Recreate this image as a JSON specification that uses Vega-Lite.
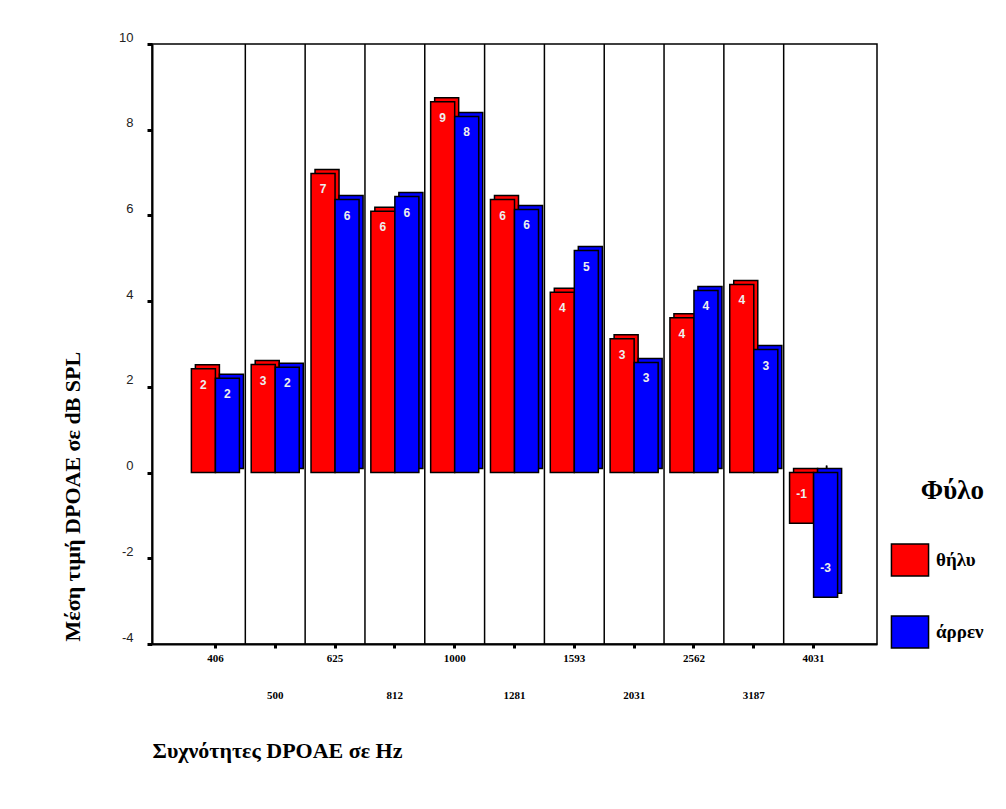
{
  "$schema": "https://vega.github.io/schema/vega-lite/v6.json",
  "width": 725,
  "height": 600,
  "autosize": "none",
  "padding": {"left": 152, "top": 44, "right": 129, "bottom": 165},
  "background": "white",
  "config": {
    "view": {"stroke": "black", "strokeWidth": 1.5},
    "locale": {"number": {"decimal": ".", "thousands": ",", "grouping": [3], "currency": ["$", ""], "minus": "-"}}
  },
  "resolve": {"scale": {"xOffset": "independent"}},
  "data": {
    "values": [
      {"freq": "406", "sex": "θήλυ", "value": 2.42},
      {"freq": "406", "sex": "άρρεν", "value": 2.2},
      {"freq": "500", "sex": "θήλυ", "value": 2.52},
      {"freq": "500", "sex": "άρρεν", "value": 2.46},
      {"freq": "625", "sex": "θήλυ", "value": 6.98},
      {"freq": "625", "sex": "άρρεν", "value": 6.37},
      {"freq": "812", "sex": "θήλυ", "value": 6.1},
      {"freq": "812", "sex": "άρρεν", "value": 6.44},
      {"freq": "1000", "sex": "θήλυ", "value": 8.65},
      {"freq": "1000", "sex": "άρρεν", "value": 8.31},
      {"freq": "1281", "sex": "θήλυ", "value": 6.37},
      {"freq": "1281", "sex": "άρρεν", "value": 6.14},
      {"freq": "1593", "sex": "θήλυ", "value": 4.21},
      {"freq": "1593", "sex": "άρρεν", "value": 5.18},
      {"freq": "2031", "sex": "θήλυ", "value": 3.12},
      {"freq": "2031", "sex": "άρρεν", "value": 2.57},
      {"freq": "2562", "sex": "θήλυ", "value": 3.61},
      {"freq": "2562", "sex": "άρρεν", "value": 4.25},
      {"freq": "3187", "sex": "θήλυ", "value": 4.39},
      {"freq": "3187", "sex": "άρρεν", "value": 2.87},
      {"freq": "4031", "sex": "θήλυ", "value": -1.18},
      {"freq": "4031", "sex": "άρρεν", "value": -2.91}
    ]
  },
  "encoding": {
    "x": {
      "field": "freq",
      "type": "ordinal",
      "sort": null,
      "scale": {
        "domain": ["406", "500", "625", "812", "1000", "1281", "1593", "2031", "2562", "3187", "4031"],
        "paddingInner": 0,
        "paddingOuter": 0.56
      },
      "axis": {
        "title": "Συχνότητες DPOAE σε Hz",
        "titleFont": "Liberation Serif",
        "titleFontSize": 22,
        "titleFontWeight": "bold",
        "titleColor": "black",
        "titleAnchor": "start",
        "titleAlign": "left",
        "titleBaseline": "middle",
        "titleX": 0,
        "titleY": 106,
        "labelFont": "Liberation Serif",
        "labelFontSize": 11,
        "labelFontWeight": "bold",
        "labelColor": "black",
        "labelAngle": 0,
        "labelBaseline": "top",
        "labelPadding": {"condition": {"test": "indexof(['500','812','1281','2031','3187'], datum.value) >= 0", "value": 41}, "value": 4},
        "tickSize": 4,
        "tickWidth": 3,
        "tickColor": "black",
        "domainColor": "black",
        "domainWidth": 2,
        "grid": false
      }
    }
  },
  "layer": [
    {
      "transform": [{"filter": "datum.sex === 'θήλυ' && datum.freq !== '406'"}],
      "mark": {"type": "rule", "color": "black", "strokeWidth": 1.5},
      "encoding": {"x": {"field": "freq", "type": "ordinal", "sort": null, "bandPosition": 0}}
    },
    {
      "mark": {"type": "rule", "color": "black", "strokeWidth": 1.5},
      "encoding": {"y": {"datum": 0, "type": "quantitative"}}
    },
    {
      "mark": {"type": "rule", "color": "black", "strokeWidth": 1.5, "yOffset": -7, "xOffset": 13},
      "encoding": {"y": {"datum": 0, "type": "quantitative"}}
    },
    {
      "mark": {"type": "bar", "stroke": "black", "strokeWidth": 1.5, "yOffset": -4, "y2Offset": -4},
      "encoding": {
        "xOffset": {"field": "sex", "sort": ["θήλυ", "άρρεν"], "scale": {"type": "band", "domain": ["θήλυ", "άρρεν"], "paddingInner": 0, "paddingOuter": 0.245, "align": 0.84}},
        "y": {"field": "value", "type": "quantitative"},
        "color": {"field": "sex", "sort": ["θήλυ", "άρρεν"]}
      }
    },
    {
      "mark": {"type": "bar", "stroke": "black", "strokeWidth": 1.5},
      "encoding": {
        "xOffset": {"field": "sex", "sort": ["θήλυ", "άρρεν"], "scale": {"type": "band", "domain": ["θήλυ", "άρρεν"], "paddingInner": 0, "paddingOuter": 0.245}},
        "y": {
          "field": "value",
          "type": "quantitative",
          "scale": {"domain": [-4, 10], "nice": false, "zero": false},
          "axis": {
            "title": "Μέση τιμή DPOAE σε dB SPL",
            "titleFont": "Liberation Serif",
            "titleFontSize": 22,
            "titleFontWeight": "bold",
            "titleColor": "black",
            "titleAngle": -90,
            "titleAlign": "left",
            "titleBaseline": "middle",
            "titleX": -80,
            "titleY": 597,
            "values": [-4, -2, 0, 2, 4, 6, 8, 10],
            "labelFont": "Liberation Sans",
            "labelFontSize": 13,
            "labelColor": "#222222",
            "labelPadding": 14,
            "labelOffset": -7,
            "tickSize": 5,
            "tickWidth": 3,
            "tickColor": "black",
            "domainColor": "black",
            "domainWidth": 2,
            "grid": false
          }
        },
        "color": {
          "field": "sex",
          "type": "nominal",
          "sort": ["θήλυ", "άρρεν"],
          "scale": {"domain": ["θήλυ", "άρρεν"], "range": ["#ff0000", "#0000ff"]},
          "legend": {
            "orient": "none",
            "legendX": 741,
            "legendY": 434,
            "title": "Φύλο",
            "titleFont": "Liberation Serif",
            "titleFontSize": 27,
            "titleFontWeight": "bold",
            "titleColor": "black",
            "titleAnchor": "end",
            "titlePadding": 38,
            "labelFont": "Liberation Serif",
            "labelFontSize": 19,
            "labelFontWeight": "bold",
            "labelColor": "black",
            "labelOffset": 9,
            "symbolType": "M-1.16,-1L1.16,-1L1.16,1L-1.16,1Z",
            "symbolSize": 1024,
            "symbolStrokeColor": "black",
            "symbolStrokeWidth": 1.5,
            "symbolOpacity": 1,
            "rowPadding": 34
          }
        }
      }
    },
    {
      "transform": [{"filter": "datum.value > 0"}],
      "mark": {"type": "text", "dy": 16, "baseline": "middle", "font": "Liberation Sans", "fontSize": 12, "fontWeight": "bold", "color": "#eeeeee"},
      "encoding": {
        "xOffset": {"field": "sex", "sort": ["θήλυ", "άρρεν"], "scale": {"type": "band", "domain": ["θήλυ", "άρρεν"], "paddingInner": 0, "paddingOuter": 0.245}},
        "y": {"field": "value", "type": "quantitative"},
        "text": {"field": "value", "type": "quantitative", "format": ".0f"}
      }
    },
    {
      "transform": [{"filter": "datum.value < 0"}],
      "mark": {"type": "text", "dy": -29, "baseline": "middle", "font": "Liberation Sans", "fontSize": 12, "fontWeight": "bold", "color": "#eeeeee"},
      "encoding": {
        "xOffset": {"field": "sex", "sort": ["θήλυ", "άρρεν"], "scale": {"type": "band", "domain": ["θήλυ", "άρρεν"], "paddingInner": 0, "paddingOuter": 0.245}},
        "y": {"field": "value", "type": "quantitative"},
        "text": {"field": "value", "type": "quantitative", "format": ".0f"}
      }
    }
  ]
}
